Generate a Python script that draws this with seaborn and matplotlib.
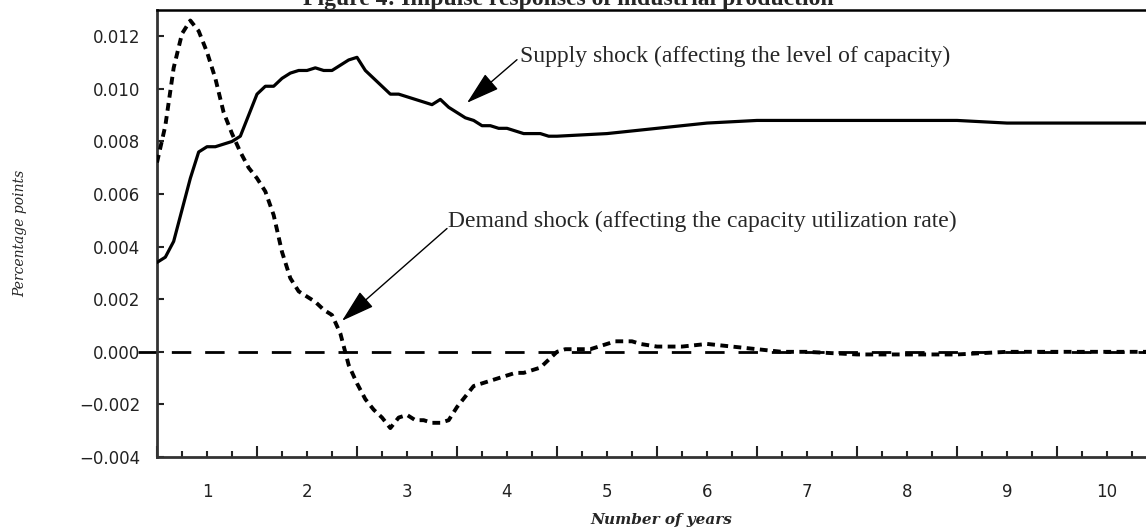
import matplotlib
matplotlib.use("Agg")
import matplotlib.pyplot as plt
import matplotlib.ticker as mticker
import seaborn as sns
import numpy as np
import pandas as pd

# months after the shock, and responses (percentage points)
supply_months = list(range(0, 49)) + [54, 60, 66, 72, 78, 84, 90, 96, 102, 108, 114, 119]
supply_resp = [0.0034, 0.0036, 0.0042, 0.0054, 0.0066, 0.0076, 0.0078, 0.0078, 0.0079, 0.0080,
               0.0082, 0.0090, 0.0098, 0.0101, 0.0101, 0.0104, 0.0106, 0.0107, 0.0107, 0.0108,
               0.0107, 0.0107, 0.0109, 0.0111, 0.0112, 0.0107, 0.0104, 0.0101, 0.0098, 0.0098,
               0.0097, 0.0096, 0.0095, 0.0094, 0.0096, 0.0093, 0.0091, 0.0089, 0.0088, 0.0086,
               0.0086, 0.0085, 0.0085, 0.0084, 0.0083, 0.0083, 0.0083, 0.0082, 0.0082,
               0.0083, 0.0085, 0.0087, 0.0088, 0.0088, 0.0088, 0.0088, 0.0088, 0.0087, 0.0087,
               0.0087, 0.0087]

demand_months = list(range(0, 59)) + [60, 63, 66, 69, 72, 75, 78, 84, 90, 96, 102, 108, 114, 119]
demand_resp = [0.0072, 0.0086, 0.0108, 0.0121, 0.0126, 0.0122, 0.0114, 0.0104, 0.0091, 0.0083,
               0.0076, 0.0070, 0.0066, 0.0061, 0.0052, 0.0038, 0.0028, 0.0023, 0.0021, 0.0019,
               0.0016, 0.0014, 0.0007, -0.0005, -0.0012, -0.0018, -0.0022, -0.0025, -0.0029, -0.0025,
               -0.0024, -0.0026, -0.0026, -0.0027, -0.0027, -0.0026, -0.0021, -0.0017, -0.0013, -0.0012,
               -0.0011, -0.0010, -0.0009, -0.0008, -0.0008, -0.0007, -0.0006, -0.0003, 0.0000, 0.0001,
               0.0001, 0.0001, 0.0001, 0.0002, 0.0003, 0.0004, 0.0004, 0.0004, 0.0003,
               0.0002, 0.0002, 0.0003, 0.0002, 0.0001, 0.0000, 0.0000, -0.0001, -0.0001, -0.0001,
               0.0000, 0.0000, 0.0000, 0.0000]

supply = pd.DataFrame({'years': np.array(supply_months) / 12, 'resp': supply_resp})
demand = pd.DataFrame({'years': np.array(demand_months) / 12, 'resp': demand_resp})

sns.set_theme(style='white')
plt.rcParams['font.family'] = ['DejaVu Sans']

fig = plt.figure(figsize=(11.46, 5.31), dpi=100)
ax = fig.add_axes([157 / 1146, 1 - 457 / 531, 1 - 157 / 1146, 447 / 531])

ax.hlines(0, -0.19, 9.9, color='black', lw=2.0, linestyles=(0, (7, 5)), clip_on=False, zorder=1)
sns.lineplot(data=supply, x='years', y='resp', color='black', lw=2.3, ax=ax, zorder=3)
sns.lineplot(data=demand, x='years', y='resp', color='black', lw=2.8,
             linestyle=(0, (2.0, 1.4)), ax=ax, zorder=3)

ax.set_xlim(0, 9.89)
ax.set_ylim(-0.004, 0.013)

# y axis
ax.set_yticks(np.arange(-0.004, 0.0121, 0.002))
ax.yaxis.set_major_formatter(mticker.FuncFormatter(lambda v, p: f'{v:.3f}'.replace('-', '\u2212')))
ax.tick_params(axis='y', left=True, direction='in', length=5, width=1.5, pad=12,
               labelsize=12, colors='#222222')

# x axis: long ticks at year boundaries, short every quarter, labels mid-year
ax.set_xticks(np.arange(0, 10, 1))
ax.xaxis.set_major_formatter(mticker.NullFormatter())
quarters = [q / 4 for q in range(1, 40) if q % 4 != 0]
ax.set_xticks(quarters, minor=True)
ax.set_xticklabels([str(int(q) + 1) if q % 1 == 0.5 else '' for q in quarters], minor=True)
ax.tick_params(axis='x', which='major', bottom=True, direction='in', length=8, width=1.5,
               colors='#222222')
ax.tick_params(axis='x', which='minor', bottom=True, direction='in', length=4, width=1.5, pad=19,
               labelsize=12, colors='#222222')

for side in ['left', 'bottom']:
    ax.spines[side].set_color('#333333')
    ax.spines[side].set_linewidth(2)
ax.spines['top'].set_color('black')
ax.spines['top'].set_linewidth(1.8)
ax.spines['right'].set_visible(False)

ax.set_xlabel('Number of years', fontsize=11, style='italic', fontweight='bold', family='DejaVu Serif')
ax.set_ylabel('Percentage points', fontsize=10, style='italic', family='DejaVu Serif')
ax.xaxis.set_label_coords(0.51, -0.125)
ax.yaxis.set_label_coords(-0.1314, 0.5)

arrow = dict(arrowstyle='-|>,head_length=1.5,head_width=0.45', mutation_scale=14,
             color='black', lw=1, shrinkA=0, shrinkB=0)
ax.annotate('', xy=(3.10, 0.00947), xytext=(3.60, 0.01111), arrowprops=arrow)
ax.text(3.63, 0.01103, 'Supply shock (affecting the level of capacity)', fontsize=17,
        family='Liberation Serif', va='baseline', ha='left')
ax.annotate('', xy=(1.85, 0.00118), xytext=(2.90, 0.00469), arrowprops=arrow)
ax.text(2.91, 0.00473, 'Demand shock (affecting the capacity utilization rate)', fontsize=17,
        family='Liberation Serif', va='baseline', ha='left')

# the title sits at the very top edge, as in the source figure
fig.text(568 / 1146, 1 - 5 / 531, 'Figure 4: Impulse responses of industrial production',
         fontsize=17, fontweight='bold', family='Liberation Serif', ha='center', va='baseline')

fig.savefig('out.png', dpi=100)
